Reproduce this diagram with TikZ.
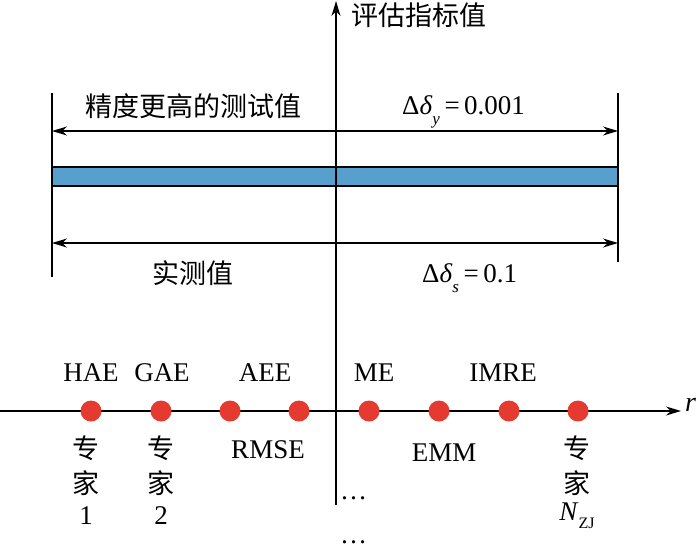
\documentclass[tikz,border=0pt]{standalone}
\usepackage{fontspec}
\setmainfont{Liberation Serif}
\newfontfamily\cjk{Noto Sans CJK SC}
\usetikzlibrary{arrows.meta}
\definecolor{barblue}{HTML}{579FCC}
\definecolor{dotred}{HTML}{E53A30}
\begin{document}
\begin{tikzpicture}[x=1pt,y=-1pt,
  ln/.style={line width=1.4pt},
  arr/.style={ln,-{Stealth[length=15pt,width=9pt]}},
  darr/.style={ln,{Stealth[length=15pt,width=9pt]}-{Stealth[length=15pt,width=9pt]}},
  lab/.style={inner sep=0pt,font=\fontsize{27}{30}\selectfont},
  zh/.style={inner sep=0pt,font=\fontsize{27}{30}\selectfont\cjk},
  dotn/.style={circle,fill=dotred,minimum size=21pt,inner sep=0pt}]
\useasboundingbox (0,0) rectangle (700,549);
% coordinates
\coordinate (vb) at (336,505);
\coordinate (vt) at (336,1);
\coordinate (hl) at (0,411);
\coordinate (hr) at (681,411);
\coordinate (l1) at (52,93);
\coordinate (l2) at (52,277);
\coordinate (r1) at (618,93);
\coordinate (r2) at (618,262);
\coordinate (a1) at (52,131);
\coordinate (a2) at (618,131);
\coordinate (b1) at (52,243);
\coordinate (b2) at (618,243);
% bar
\filldraw[fill=barblue,draw=black,line width=1.2pt] (52,167) rectangle (618,186);
% lines
\draw[ln] (l1) -- (l2);
\draw[ln] (r1) -- (r2);
\draw[darr] (a1) -- (a2);
\draw[darr] (b1) -- (b2);
\draw[arr] (vb) -- (vt);
\draw[arr] (hl) -- (hr);
% axis labels
\node[zh,anchor=west] (ylab) at (351,15) {评估指标值};
\node[lab,anchor=west,font=\fontsize{28}{30}\selectfont\itshape] (rlab) at (685,405) {r};
% interval labels
\node[zh] (t1) at (193,106) {精度更高的测试值};
\node[zh] (t2) at (193,273) {实测值};
\node[lab,anchor=base west] (d1) at (402,114) {Δ\textit{δ}\raisebox{-0.4em}{\fontsize{17}{17}\selectfont\textit{y}}\,=\,0.001};
\node[lab,anchor=base west] (d2) at (422,282) {Δ\textit{δ}\raisebox{-0.4em}{\fontsize{17}{17}\selectfont\textit{s}}\,=\,0.1};
% dots
\foreach \n/\x in {p1/91,p2/161,p3/230,p4/299,p5/369,p6/439,p7/509,p8/578}
  \node[dotn] (\n) at (\x,411) {};
% labels above
\node[lab] (hae) at (91,373) {HAE};
\node[lab] (gae) at (162,373) {GAE};
\node[lab] (aee) at (265,373) {AEE};
\node[lab] (me) at (374,373) {ME};
\node[lab] (imre) at (503,373) {IMRE};
% labels below
\node[lab] (rmse) at (268,450) {RMSE};
\node[lab] (emm) at (444,453) {EMM};
\node[zh] (e1a) at (86,448) {专};
\node[zh] (e1b) at (86,483) {家};
\node[lab] (e1c) at (86,516) {1};
\node[zh] (e2a) at (161,448) {专};
\node[zh] (e2b) at (161,483) {家};
\node[lab] (e2c) at (161,516) {2};
\node[zh] (e3a) at (577,448) {专};
\node[zh] (e3b) at (577,483) {家};
\node[lab] (e3c) at (577,516) {\textit{N}\raisebox{-0.3em}{\fontsize{16}{16}\selectfont ZJ}};
% ellipses
\node[lab,anchor=base west] (el1) at (340,499) {…};
\node[lab,anchor=base west] (el2) at (340,543) {…};
\end{tikzpicture}
\end{document}
